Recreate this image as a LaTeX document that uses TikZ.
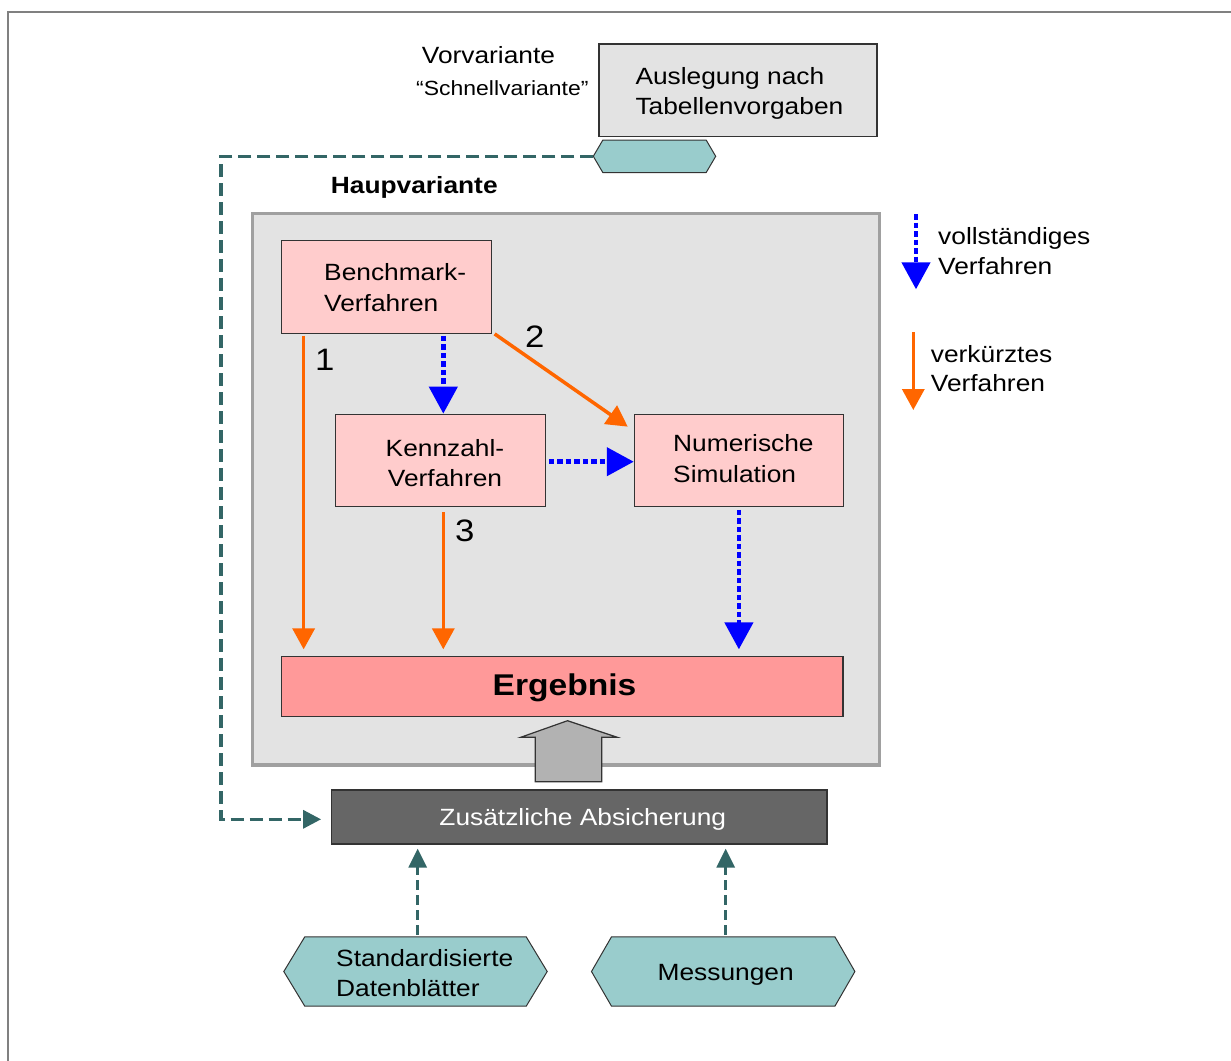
\documentclass[tikz,border=0pt]{standalone}
\usepackage{fontspec}
\setmainfont{Liberation Sans}[FakeStretch=1.12]
\usetikzlibrary{arrows.meta}
\definecolor{framegray}{HTML}{808080}
\definecolor{boxgray}{HTML}{E3E3E3}
\definecolor{bordgray}{HTML}{A0A0A0}
\definecolor{pinkfill}{HTML}{FFCCCC}
\definecolor{ergfill}{HTML}{FF9999}
\definecolor{darkfill}{HTML}{666666}
\definecolor{hexfill}{HTML}{99CCCC}
\definecolor{tealline}{HTML}{336666}
\definecolor{myblue}{HTML}{0000FF}
\definecolor{myorange}{HTML}{FF6600}
\definecolor{arrowgray}{HTML}{B2B2B2}
\definecolor{edgedark}{HTML}{333333}
\newcommand{\bodyfont}{\fontsize{23.5bp}{29.5bp}\selectfont}
\newcommand{\boxfont}{\fontsize{23.5bp}{30.3bp}\selectfont}
\newcommand{\myhex}[2]{\draw[hexline] (#1.west) -- ([xshift=#2]#1.north west) -- ([xshift=-#2]#1.north east) -- (#1.east) -- ([xshift=-#2]#1.south east) -- ([xshift=#2]#1.south west) -- cycle;}
\begin{document}
\begin{tikzpicture}[x=1bp,y=-1bp,
  boxshape/.style={rectangle, inner sep=0pt, draw=edgedark, line width=1.3bp},
  anchorbox/.style={rectangle, inner sep=0pt},
  hexline/.style={fill=hexfill, draw=edgedark, line width=1bp},
  txt/.style={inner sep=0pt, font=\bodyfont, align=left},
  btxt/.style={inner sep=0pt, font=\boxfont, align=left},
  numtxt/.style={inner sep=0pt, font=\fontsize{31bp}{36bp}\selectfont},
  bluearr/.style={draw=myblue, line width=4.5bp, dash pattern=on 5.5bp off 3bp, -{Triangle[length=27bp,width=28bp]}, myblue},
  orarr/.style={draw=myorange, line width=3.5bp, -{Triangle[length=21bp,width=22bp]}, myorange},
  tealarr/.style={draw=tealline, line width=3.3bp, dash pattern=on 13bp off 6bp, -{Triangle[length=18bp,width=18bp]}, tealline},
  tealup/.style={draw=tealline, line width=3bp, dash pattern=on 10bp off 5bp, -{Triangle[length=19bp,width=18bp]}, tealline}
]
\useasboundingbox (0,0) rectangle (1231,1061);
% outer frame lines
\draw[framegray, line width=2bp] (7.7,1061) -- (7.7,12.3) -- (1231,12.3);

% Vorvariante
\node[txt, anchor=base west] (vor) at (421.7,63.3) {Vorvariante};
\node[inner sep=0pt, font=\fontsize{20.5bp}{24bp}\selectfont, anchor=base west] (schnell) at (416,95.7) {“Schnellvariante”};
\node[boxshape, fill=boxgray, minimum width=278bp, minimum height=92.5bp] (ausl) at (738,90.25) {};
\node[txt, anchor=base west] (auslT) at (635.3,114) {Auslegung nach\\Tabellenvorgaben};
\node[anchorbox, minimum width=122bp, minimum height=32bp] (topHex) at (654.5,156.3) {};
\myhex{topHex}{9.5bp}

% Hauptvariante
\node[txt, font=\bodyfont\bfseries, anchor=base west] (haupLabel) at (330.7,193.3) {Haupvariante};
\node[rectangle, inner sep=0pt, fill=boxgray, draw=bordgray, line width=3.3bp, minimum width=627.4bp, minimum height=551.6bp] (haupt) at (566.1,489.2) {};

\node[boxshape, fill=pinkfill, minimum width=209.8bp, minimum height=92.5bp] (bench) at (386.4,287) {};
\node[btxt, anchor=base west] (benchT) at (324,311) {Benchmark-\\Verfahren};
\node[boxshape, fill=pinkfill, minimum width=209.6bp, minimum height=92.4bp] (kenn) at (440.5,460.5) {};
\node[btxt, align=center, anchor=base] (kennT) at (445,486.7) {Kennzahl-\\Verfahren};
\node[boxshape, fill=pinkfill, minimum width=209bp, minimum height=92.4bp] (num) at (738.9,460.5) {};
\node[btxt, anchor=base west] (numT) at (673,482) {Numerische\\Simulation};
\node[boxshape, fill=ergfill, minimum width=561.3bp, minimum height=60.2bp] (erg) at (562.3,686.6) {};
\node[inner sep=0pt, font=\fontsize{30bp}{36bp}\selectfont\bfseries, anchor=base] (ergT) at (564.5,695) {Ergebnis};

% arrows inside
\draw[orarr, shorten <=1.7bp, shorten >=6.5bp] ([xshift=22.8bp]bench.south west) -- ([xshift=22.8bp]bench.south west |- erg.north);
\node[numtxt, anchor=base west] (n1) at (315,370.7) {1};
\draw[bluearr, shorten <=2bp] ([xshift=56.9bp]bench.south) -- ([xshift=56.9bp]bench.south |- kenn.north);
\draw[orarr] ([xshift=2.7bp]bench.south east) -- ([xshift=-6bp,yshift=-13bp]num.north west);
\node[numtxt, anchor=base west] (n2) at (525,347.3) {2};
\draw[bluearr, shorten <=3bp] ([yshift=-1.2bp]kenn.east) -- ([yshift=-1.2bp]num.west);
\draw[orarr, shorten <=5bp, shorten >=6.5bp] ([xshift=2.8bp]kenn.south) -- ([xshift=2.8bp]kenn.south |- erg.north);
\node[numtxt, anchor=base west] (n3) at (455,541.7) {3};
\draw[bluearr, shorten <=2.5bp, shorten >=6.5bp] (num.south) -- (num.south |- erg.north);

% Zusaetzliche Absicherung
\node[boxshape, fill=darkfill, draw=black!80, minimum width=495.3bp, minimum height=54bp] (zus) at (579.4,817) {};
\node[txt, text=white, anchor=base] (zusT) at (582.8,825.7) {Zusätzliche Absicherung};

% block arrow
\draw[fill=arrowgray, draw=edgedark, line width=1.2bp]
  (535.3,781.7) -- (535.3,737.3) -- (520.7,737.3) -- (567.5,720.7) -- (617.3,737.3) -- (601.7,737.3) -- (601.7,781.7) -- cycle;

% dashed feedback from top hexagon
\draw[tealarr] (topHex.west) -- ++(-372.3,0) |- ([xshift=-10bp,yshift=-2.3bp]zus.west);

% bottom hexagons
\node[anchorbox, minimum width=263bp, minimum height=69bp] (std) at (415.5,971.5) {};
\myhex{std}{21bp}
\node[txt, anchor=base west] (stdT) at (336,996) {Standardisierte\\Datenblätter};
\node[anchorbox, minimum width=263bp, minimum height=69bp] (mess) at (723.2,971.5) {};
\myhex{mess}{20bp}
\node[txt, anchor=base] (messT) at (725.7,980) {Messungen};

\draw[tealup, shorten <=2bp, shorten >=4bp] ([xshift=2.2bp]std.north) -- ([xshift=2.2bp]std.north |- zus.south);
\draw[tealup, shorten <=2bp, shorten >=4bp] ([xshift=2.5bp]mess.north) -- ([xshift=2.5bp]mess.north |- zus.south);

% legend
\coordinate (l1s) at (916,214);
\coordinate (l1e) at (916,289.3);
\draw[bluearr] (l1s) -- (l1e);
\node[txt, anchor=base west] (leg1) at (938,274) {vollständiges\\Verfahren};
\coordinate (l2s) at (913.3,332);
\coordinate (l2e) at (913.3,410);
\draw[orarr] (l2s) -- (l2e);
\node[txt, anchor=base west] (leg2) at (930.7,391.7) {verkürztes\\Verfahren};
\end{tikzpicture}
\end{document}
